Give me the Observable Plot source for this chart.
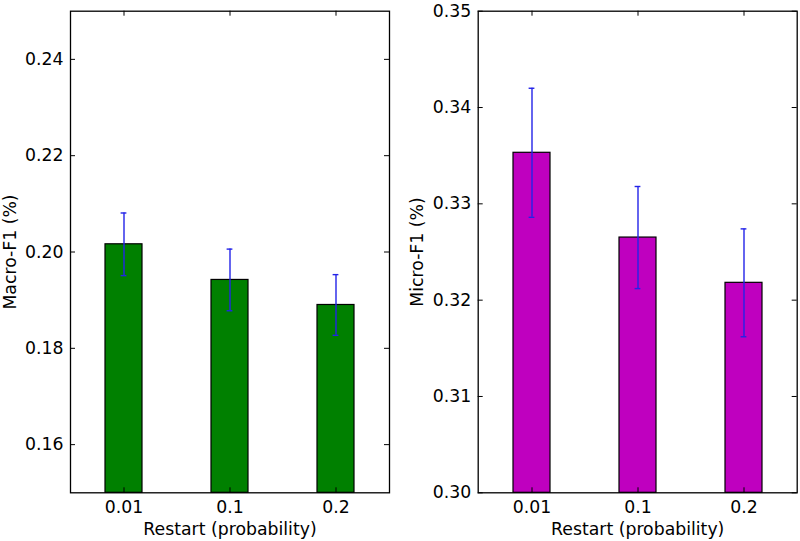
<!DOCTYPE html>
<html><head><meta charset="utf-8">
<script src="https://cdn.jsdelivr.net/npm/d3@7"></script>
<script src="https://cdn.jsdelivr.net/npm/@observablehq/plot@0.6"></script>
<style>body{margin:0;background:#fff} #wrap{display:flex;width:800px;height:541px}</style>
</head><body><div id="wrap"></div>
<script>
const restart = ["0.01", "0.1", "0.2"];
const macroF1 = [0.2016, 0.1942, 0.1890];
const macroErr = [0.0065, 0.0064, 0.0063];
const microF1 = [0.3353, 0.3265, 0.3218];
const microErr = [0.0067, 0.0053, 0.0056];
const macroTicks = [0.16, 0.18, 0.20, 0.22, 0.24];
const microTicks = [0.30, 0.31, 0.32, 0.33, 0.34, 0.35];
const macroDomain = [0.15, 0.25];
const microDomain = [0.30, 0.35];

const FS = 17.3;

function panel({values, errs, domain, ticks, fill, ylabel, marginLeft, marginRight}) {
  const data = restart.map((r, i) => ({r, v: values[i], lo: values[i] - errs[i], hi: values[i] + errs[i]}));
  const W = 400, H = 541, mt = 10.7, mb = 48.7;
  const pw = W - marginLeft - marginRight, ph = H - mt - mb;
  const bw = pw / 3 * 0.35;
  const capInset = (bw - 6) / 2;
  const errColor = "#2323e8";
  return Plot.plot({
    width: W, height: H, marginLeft, marginRight, marginTop: mt, marginBottom: mb,
    style: {fontFamily: "DejaVu Sans", fontSize: FS + "px", color: "black", background: "white", overflow: "visible"},
    x: {domain: restart, paddingInner: 0.65, paddingOuter: 0.325},
    y: {domain, ticks},
    marks: [
      Plot.barY(data, {x: "r", y1: domain[0], y2: "v", fill, stroke: "black", strokeWidth: 1.2}),
      Plot.ruleX(data, {x: "r", y1: "lo", y2: "hi", stroke: errColor, strokeWidth: 1.4}),
      Plot.tickY(data, {x: "r", y: "lo", stroke: errColor, strokeWidth: 1.4, insetLeft: capInset, insetRight: capInset}),
      Plot.tickY(data, {x: "r", y: "hi", stroke: errColor, strokeWidth: 1.4, insetLeft: capInset, insetRight: capInset}),
      Plot.tickY(ticks, {y: d => d, insetRight: pw - 5, stroke: "black", strokeWidth: 1}),
      Plot.tickY(ticks, {y: d => d, insetLeft: pw - 5, stroke: "black", strokeWidth: 1}),
      Plot.tickX(restart, {x: d => d, insetTop: ph - 5, stroke: "black", strokeWidth: 1}),
      Plot.tickX(restart, {x: d => d, insetBottom: ph - 5, stroke: "black", strokeWidth: 1}),
      Plot.axisY(ticks, {tickSize: 0, tickPadding: 7, tickFormat: d3.format(".2f"), label: null, fontSize: FS}),
      Plot.axisX({tickSize: 0, tickPadding: 8, label: null, fontSize: FS}),
      Plot.text(["Restart (probability)"], {frameAnchor: "bottom", dy: 36.4, text: d => d, fontSize: FS, lineAnchor: "middle", textAnchor: "middle"}),
      Plot.text([ylabel], {frameAnchor: "left", dx: -60.3, rotate: -90, text: d => d, fontSize: FS, lineAnchor: "middle", textAnchor: "middle"}),
      Plot.frame({stroke: "black", strokeWidth: 1.3})
    ]
  });
}

const wrap = document.getElementById("wrap");
wrap.append(panel({values: macroF1, errs: macroErr, domain: macroDomain, ticks: macroTicks, fill: "#008000", ylabel: "Macro-F1 (%)", marginLeft: 70, marginRight: 11}));
wrap.append(panel({values: microF1, errs: microErr, domain: microDomain, ticks: microTicks, fill: "#bf00bf", ylabel: "Micro-F1 (%)", marginLeft: 77.7, marginRight: 3.3}));
</script>
</body></html>
